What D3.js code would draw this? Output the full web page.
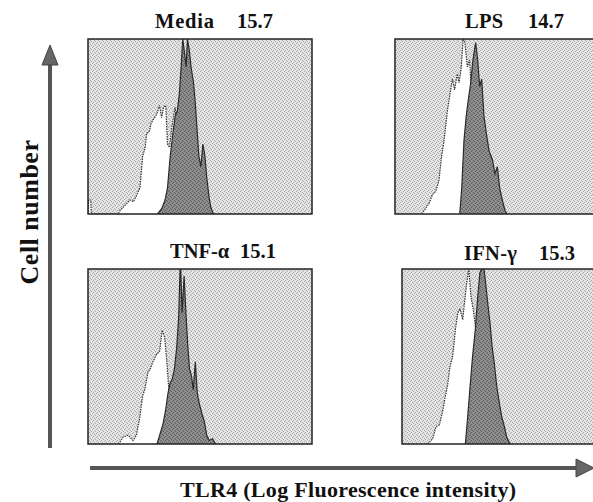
<!DOCTYPE html>
<html><head><meta charset="utf-8">
<script src="https://cdn.jsdelivr.net/npm/d3@7/dist/d3.min.js"></script>
<style>body{margin:0;background:#fff}svg{display:block}</style>
</head><body>
<svg id="c" width="593" height="502"></svg>
<script>
// ---- data (x: % of panel width on log-fluorescence axis, y: % of max cell count)
const conditions = ["Media", "LPS", "TNF-\u03B1", "IFN-\u03B3"];
const mfiLabels = ["15.7", "14.7", "15.1", "15.3"];

const mediaControl = [[0,0],[0.3,8],[1.2,8],[1.5,0],[13.5,0],[14.3,2],[16.5,5],[18.8,8],[20.3,7],[21.8,11],[23.2,15],[24.4,33],[25.5,38],[26.2,46],[27.3,47],[28.2,52],[29.2,54],[30.7,57],[31.9,62],[32.9,55],[33.7,61],[34.7,62],[35.5,40],[36.4,38],[37.5,50],[38.9,61],[40,45],[42,30],[44,15],[46,5],[47,0]];
const mediaTLR4 = [[31,0],[32.9,3],[34.4,8],[35.5,15],[36.7,33],[37.9,46],[38.9,56],[39.9,59],[40.8,69],[41.6,84],[42.3,100],[43.1,92],[43.8,84],[44.4,100],[45.2,94],[46,84],[47.1,75],[47.8,65],[48.6,50],[49.5,33],[50.4,27],[51.3,40],[52.2,33],[53,21],[54,10],[54.8,4],[55.7,1],[56.2,0]];

const lpsControl = [[12,0],[13,2],[15.2,6],[16.7,11],[18.2,13],[19.6,19],[20.8,33],[21.9,42],[23.4,59],[24.6,69],[25.6,77],[26.6,71],[27.8,80],[28.6,75],[29.6,84],[30.4,100],[31.2,98],[32.3,84],[33.3,88],[34.5,60],[36,40],[38,20],[40,6],[41,0]];
const lpsTLR4 = [[28.9,0],[29.8,15],[30.8,42],[31.8,56],[32.7,65],[33.8,75],[34.8,88],[36,98],[36.9,88],[37.8,73],[38.7,77],[39.7,56],[40.8,46],[42,36],[43.5,31],[44.6,23],[45.7,27],[46.7,15],[47.9,8],[49.1,2],[50,0]];

const tnfControl = [[13.5,0],[14.2,1],[15.7,4],[17.9,5],[20.1,2],[21.6,5],[23.1,15],[24.3,27],[25.3,31],[26.8,41],[27.8,43],[29,47],[30.5,51],[32,53],[33.1,65],[34.2,61],[35.2,47],[36.1,31],[37.5,20],[39,10],[41,3],[42,0]];
const tnfTLR4 = [[30.8,0],[32,5],[33.4,11],[34.6,19],[35.7,29],[36.7,35],[37.6,37],[38.6,43],[39.6,55],[40.5,73],[41.1,100],[41.4,100],[42,75],[42.9,96],[43.8,73],[44.5,57],[45.3,43],[46.2,39],[47,31],[47.9,47],[48.8,29],[49.7,23],[50.9,17],[51.9,13],[53,5],[54.1,2],[55.6,3],[57,0]];

const ifnControl = [[11.5,0],[12.2,1],[13.7,3],[15.2,10],[16.7,11],[18.2,19],[19.3,27],[20.4,34],[21.4,44],[22.6,50],[23.8,65],[24.9,75],[25.9,77],[27.1,71],[28,82],[28.9,92],[29.8,100],[30.8,84],[31.8,77],[33,65],[35,40],[37,20],[39,6],[40,0]];
const ifnTLR4 = [[28.3,0],[29.3,15],[30.4,33],[31.5,50],[32.7,65],[33.8,84],[34.8,98],[35.7,100],[36.6,100],[37.5,90],[38.4,79],[39.3,69],[40.2,56],[41.2,46],[42.3,33],[43.5,23],[44.6,15],[45.7,10],[46.7,4],[47.9,1],[48.5,0]];

const controlSeries = [mediaControl, lpsControl, tnfControl, ifnControl];
const tlr4Series = [mediaTLR4, lpsTLR4, tnfTLR4, ifnTLR4];

// ---- layout
const svg = d3.select("#c");
const W = 224, H = 175;
const pos = [{x:88,y:39},{x:395,y:39},{x:88,y:269},{x:402,y:269}];
const titlePos = [
  {lx:155,ls:0.8,vx:237,y:28},
  {lx:465,ls:0.3,vx:528,y:28},
  {lx:170,ls:0,vx:240,y:258},
  {lx:464,ls:0.3,vx:539,y:260}];

const defs = svg.append("defs");
const pat = defs.append("pattern").attr("id","stip").attr("width",4).attr("height",4).attr("patternUnits","userSpaceOnUse");
pat.append("rect").attr("width",4).attr("height",4).attr("fill","#e4e4e4");
[[0,0],[2,1],[1,3],[3,2]].forEach(p=>pat.append("rect").attr("x",p[0]).attr("y",p[1]).attr("width",1).attr("height",1).attr("fill","#aaaaaa"));
const pat2 = defs.append("pattern").attr("id","stipd").attr("width",4).attr("height",4).attr("patternUnits","userSpaceOnUse");
pat2.append("rect").attr("width",4).attr("height",4).attr("fill","#8e8e8e");
[[0,0],[2,1],[1,3],[3,2]].forEach(p=>pat2.append("rect").attr("x",p[0]).attr("y",p[1]).attr("width",1).attr("height",1).attr("fill","#5a5a5a"));

const x = d3.scaleLinear().domain([0,100]).range([0,W]);
const y = d3.scaleLinear().domain([0,100]).range([H,0]);
const area = d3.area().x(d=>x(d[0])).y0(H).y1(d=>y(d[1])).curve(d3.curveLinear);
const line = d3.line().x(d=>x(d[0])).y(d=>y(d[1])).curve(d3.curveLinear);

const font = "Liberation Serif";
conditions.forEach((c,i)=>{
  const g = svg.append("g").attr("transform",`translate(${pos[i].x},${pos[i].y})`);
  defs.append("clipPath").attr("id","cl"+i).append("rect").attr("width",W).attr("height",H);
  g.append("rect").attr("width",W).attr("height",H).attr("fill","url(#stip)");
  const pg = g.append("g").attr("clip-path",`url(#cl${i})`);
  pg.append("path").datum(controlSeries[i]).attr("d",area).attr("fill","#fff");
  pg.append("path").datum(controlSeries[i]).attr("d",line).attr("fill","none").attr("stroke","#333").attr("stroke-width",1.2).attr("stroke-dasharray","1.5,1");
  pg.append("path").datum(tlr4Series[i]).attr("d",area).attr("fill","url(#stipd)");
  pg.append("path").datum(tlr4Series[i]).attr("d",line).attr("fill","none").attr("stroke","#2a2a2a").attr("stroke-width",1.2);
  g.append("rect").attr("width",W).attr("height",H).attr("fill","none").attr("stroke","#222").attr("stroke-width",1.5);
  const t = titlePos[i];
  svg.append("text").attr("x",t.lx).attr("y",t.y).text(c)
    .attr("font-family",font).attr("font-weight","bold").attr("font-size",20.5)
    .attr("letter-spacing",t.ls).attr("fill","#111");
  svg.append("text").attr("x",t.vx).attr("y",t.y).text(mfiLabels[i])
    .attr("font-family",font).attr("font-weight","bold").attr("font-size",20.5).attr("fill","#111");
});

// axes arrows
svg.append("line").attr("x1",50).attr("y1",448).attr("x2",50).attr("y2",62).attr("stroke","#555").attr("stroke-width",4);
svg.append("path").attr("d","M50,45 L42,65 L58,65 Z").attr("fill","#666").attr("stroke","#444").attr("stroke-width",1);
svg.append("line").attr("x1",90).attr("y1",468).attr("x2",580).attr("y2",468).attr("stroke","#555").attr("stroke-width",4);
svg.append("path").attr("d","M594,468 L576,459 L576,477 Z").attr("fill","#666").attr("stroke","#444").attr("stroke-width",1);

svg.append("text").attr("transform","translate(38,212) rotate(-90)").attr("text-anchor","middle")
  .attr("font-family",font).attr("font-weight","bold").attr("font-size",26).attr("letter-spacing",0.5).attr("fill","#111").text("Cell number");
svg.append("text").attr("x",180).attr("y",497)
  .attr("font-family",font).attr("font-weight","bold").attr("font-size",22).attr("letter-spacing",0.3).attr("fill","#111").text("TLR4 (Log Fluorescence intensity)");
</script>
</body></html>
